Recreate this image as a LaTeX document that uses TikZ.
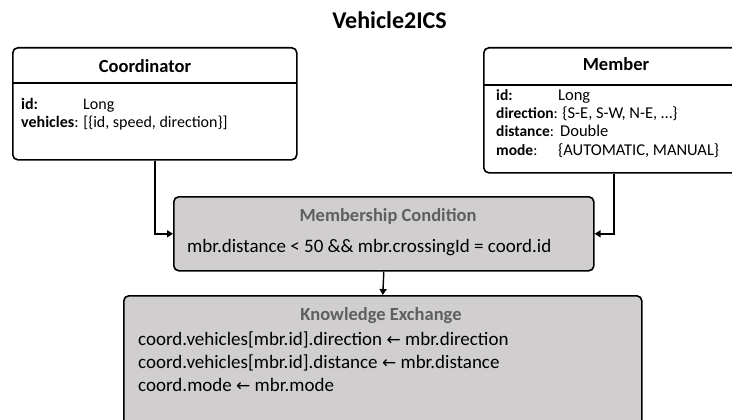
\documentclass[tikz,border=0pt]{standalone}
\usepackage{fontspec}
\setmainfont{Carlito}
\newfontfamily\symfont{DejaVu Sans}
\usetikzlibrary{arrows.meta}
\definecolor{boxgray}{HTML}{D0CECE}
\definecolor{titlegray}{HTML}{5F5F5F}
\tikzset{
  umlbox/.style={draw, line width=1.6pt, rounded corners=5pt, fill=white, anchor=north west, inner sep=0pt},
  procbox/.style={umlbox, fill=boxgray},
  divider/.style={line width=1.4pt},
  hdr/.style={font=\fontsize{18.5}{20}\selectfont\bfseries, anchor=base, inner sep=0pt},
  ghdr/.style={hdr, text=titlegray},
  attr/.style={font=\fontsize{16}{18}\selectfont, anchor=base west, inner sep=0pt},
  mlab/.style={font=\fontsize{15.5}{17}\selectfont\bfseries, anchor=base west, inner sep=0pt},
  mval/.style={font=\fontsize{16.5}{18}\selectfont, anchor=base west, inner sep=0pt},
  expr/.style={font=\fontsize{19}{21}\selectfont, anchor=base west, inner sep=0pt},
  conn/.style={line width=1.4pt, -{Triangle[length=6pt,width=7pt]}},
}
\newcommand{\larr}{{\symfont\fontsize{17}{19}\selectfont ←}}
\begin{document}
\begin{tikzpicture}[x=1pt,y=-1pt]
\useasboundingbox (0,0) rectangle (732,420);

% title
\node[hdr, font=\fontsize{24}{26}\selectfont\bfseries] (title) at (389.5,29) {Vehicle2ICS};

% Coordinator
\node[umlbox, minimum width=284pt, minimum height=112pt] (coord) at (12,47) {};
\draw[divider] (12,83) -- (296,83);
\node[hdr] (coordH) at (145,73) {Coordinator};
\node[attr] (cid) at (21,110) {\textbf{id:}};
\node[attr] (cidv) at (83,110) {Long};
\node[attr] (cveh) at (21,128) {\textbf{vehicles}: [\{id, speed, direction\}]};

% Member
\node[umlbox, minimum width=260pt, minimum height=125pt] (mem) at (483,47) {};
\draw[divider] (483,85) -- (743,85);
\node[hdr] (memH) at (616,71) {Member};
\node[mlab] (mid) at (496,101) {id:};
\node[mval] (midv) at (558,101) {Long};
\node[mlab] (mdir) at (496,119) {direction\textmd{: }{\fontsize{16.5}{18}\selectfont\mdseries\{S-E, S-W, N-E, …\}}};
\node[mlab] (mdist) at (496,137) {distance\textmd{:}};
\node[mval] (mdistv) at (560,137) {Double};
\node[mlab] (mmode) at (496,155) {mode\textmd{:}};
\node[mval] (mmodev) at (558,155) {\{AUTOMATIC, MANUAL\}};

% Membership Condition
\node[procbox, minimum width=420pt, minimum height=74pt] (mc) at (173,196) {};
\node[ghdr] (mcH) at (388,221) {Membership Condition};
\node[expr] (mcE) at (187,252) {mbr.distance < 50 \&\& mbr.crossingId = coord.id};

% Knowledge Exchange
\node[procbox, minimum width=518pt, minimum height=135pt] (ke) at (123,295) {};
\node[ghdr] (keH) at (381,320) {Knowledge Exchange};
\node[expr] (ke1) at (138,345) {coord.vehicles[mbr.id].direction \larr{} mbr.direction};
\node[expr] (ke2) at (138,368) {coord.vehicles[mbr.id].distance \larr{} mbr.distance};
\node[expr] (ke3) at (138,391) {coord.mode \larr{} mbr.mode};

% connectors
\draw[conn] (coord.south) |- (mc.west);
\draw[conn] (mem.south) |- (mc.east);
\draw[conn] (mc.south) -- (ke.north);
\end{tikzpicture}
\end{document}
